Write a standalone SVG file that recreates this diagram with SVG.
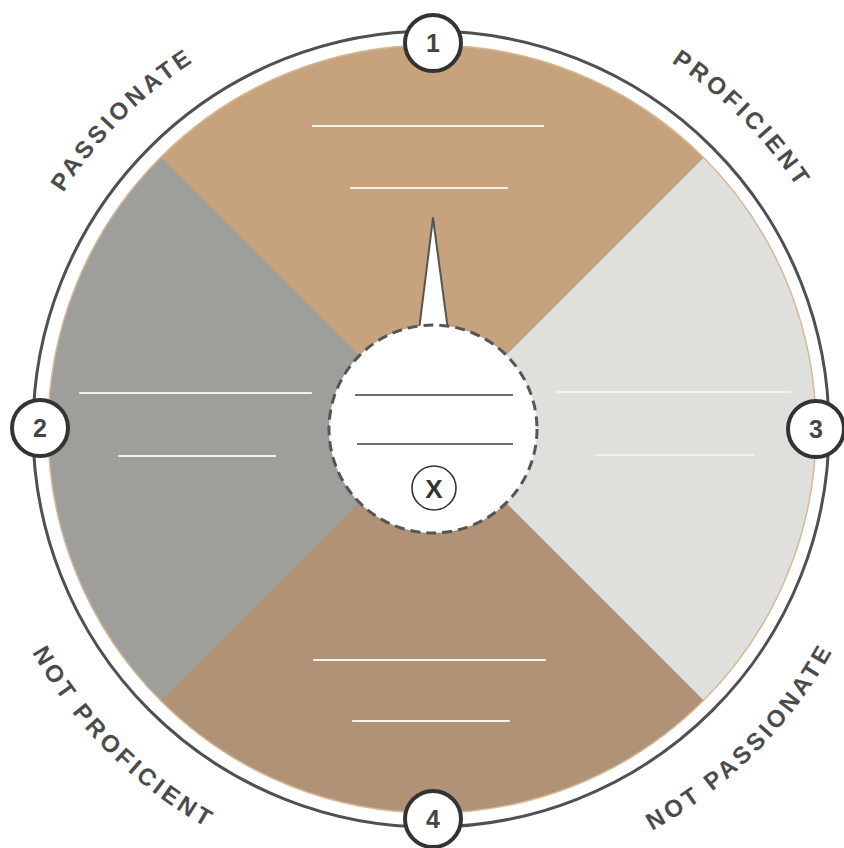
<svg xmlns="http://www.w3.org/2000/svg" width="844" height="848" viewBox="0 0 844 848">
  <style>
    .ring { fill: none; stroke: #505050; stroke-width: 3; }
    .sep { fill: none; stroke: #8e8e88; stroke-width: 1; stroke-opacity: 0.6; }
    .wl { stroke: #f8f1e6; stroke-width: 2.2; stroke-linecap: round; }
    .dl { stroke: #3e3e3e; stroke-width: 1.5; }
    .num { fill: #fff; stroke: #333; stroke-width: 4; }
    .numt { font-family: "Liberation Sans", Arial, sans-serif; font-weight: bold; font-size: 25px; fill: #454545; text-anchor: middle; }
    .arc { font-family: "Liberation Sans", Arial, sans-serif; font-weight: bold; font-size: 24px; fill: #4b4b4b; letter-spacing: 3.6px; text-anchor: middle; }
  </style>
  <defs>
    <path id="topArc" d="M -6,429 A 438 438 0 0 1 870,429"/>
    <path id="botArc" d="M -26,429 A 458 458 0 0 0 890,429"/>
  </defs>
  <rect width="844" height="848" fill="#ffffff"/>

  <g id="outer-ring">
    <circle class="ring" cx="431" cy="429" r="398"/>
  </g>

  <g id="quadrant-top">
    <path d="M432,429 L160.5,157.5 A384,384 0 0 1 703.5,157.5 Z" fill="#c6a37c"/>
    <line class="wl" x1="313" y1="126" x2="543" y2="126"/>
    <line class="wl" x1="351" y1="188" x2="507" y2="188"/>
  </g>
  <g id="quadrant-right">
    <path d="M432,429 L703.5,157.5 A384,384 0 0 1 703.5,700.5 Z" fill="#dfe0db"/>
    <line class="wl" x1="558" y1="392" x2="790" y2="392"/>
    <line class="wl" x1="597" y1="455" x2="753" y2="455"/>
  </g>
  <g id="quadrant-bottom">
    <path d="M432,429 L703.5,700.5 A384,384 0 0 1 160.5,700.5 Z" fill="#b09277"/>
    <line class="wl" x1="314" y1="660" x2="545" y2="660"/>
    <line class="wl" x1="353" y1="721" x2="509" y2="721"/>
  </g>
  <g id="quadrant-left">
    <path d="M432,429 L160.5,700.5 A384,384 0 0 1 160.5,157.5 Z" fill="#9e9f9a"/>
    <line class="wl" x1="80" y1="393" x2="311" y2="393"/>
    <line class="wl" x1="119" y1="456" x2="275" y2="456"/>
  </g>

  <g id="separators">
    <line class="sep" x1="160.5" y1="157.5" x2="703.5" y2="700.5"/>
    <line class="sep" x1="703.5" y1="157.5" x2="160.5" y2="700.5"/>
    <circle cx="432" cy="429" r="384" fill="none" stroke="#d8b793" stroke-width="1.5"/>
  </g>

  <g id="center">
    <polygon points="419,330 433,218 448,330" fill="#ffffff" stroke="#555" stroke-width="2" stroke-linejoin="round"/>
    <circle cx="433" cy="429" r="104" fill="#ffffff" stroke="#555" stroke-width="3" stroke-dasharray="10 6"/>
    <line class="dl" x1="355" y1="395" x2="513" y2="395"/>
    <line class="dl" x1="357" y1="444" x2="513" y2="444"/>
    <circle cx="434" cy="488" r="22" fill="#ffffff" stroke="#333" stroke-width="1.6"/>
    <text x="434" y="497.5" font-family="Liberation Sans, Arial, sans-serif" font-weight="bold" font-size="26" fill="#333" text-anchor="middle">X</text>
  </g>

  <g id="node-1">
    <circle class="num" cx="433" cy="43" r="28"/>
    <text class="numt" x="433" y="52">1</text>
  </g>
  <g id="node-2">
    <circle class="num" cx="40" cy="428" r="28"/>
    <text class="numt" x="40" y="437">2</text>
  </g>
  <g id="node-3">
    <circle class="num" cx="816" cy="429" r="28"/>
    <text class="numt" x="816" y="438">3</text>
  </g>
  <g id="node-4">
    <circle class="num" cx="433" cy="819" r="28"/>
    <text class="numt" x="433" y="828">4</text>
  </g>

  <g id="labels">
    <text class="arc"><textPath href="#topArc" startOffset="25%">PASSIONATE</textPath></text>
    <text class="arc"><textPath href="#topArc" startOffset="75%">PROFICIENT</textPath></text>
    <text class="arc"><textPath href="#botArc" startOffset="25%">NOT PROFICIENT</textPath></text>
    <text class="arc"><textPath href="#botArc" startOffset="75%">NOT PASSIONATE</textPath></text>
  </g>
</svg>
